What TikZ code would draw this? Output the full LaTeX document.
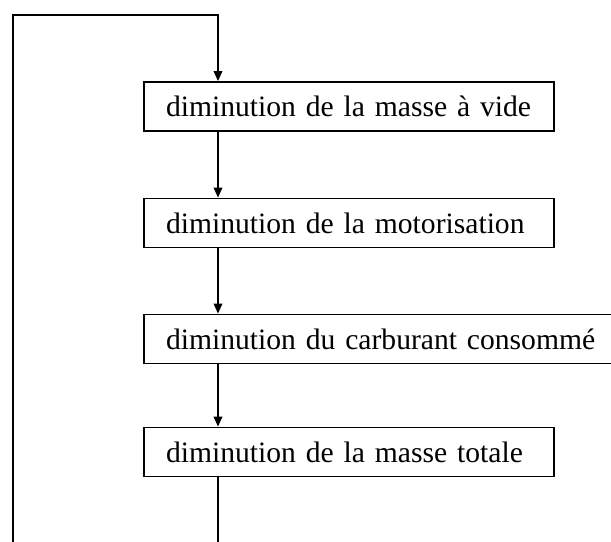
\documentclass[tikz,border=0pt]{standalone}
\usepackage{fontspec}
\setmainfont{Liberation Serif}
\usepackage{tikz}
\usetikzlibrary{calc, arrows.meta}

\begin{document}
\begin{tikzpicture}[x=0.014cm, y=0.014cm,
		box/.style = {draw, line width=0.7pt, anchor=west, align=left,
			minimum height=0.686cm, inner ysep=0pt, inner xsep=0.31cm,
			text width=5.12cm, font=\fontsize{11.8}{14}\selectfont}]
		\def\X{218};
		\def\L{143};
		
		\useasboundingbox (0,0) rectangle (611,541);
		
		\node[box] (vide) at (\L,434.5) {diminution de la masse à vide};
		\node[box] (moteur) at (\L,318) {diminution de la motorisation};
		\node[box, text width=6.15cm] (carburant) at (\L,202) {diminution du carburant consommé};
		\node[box] (totale) at (\L,89) {diminution de la masse totale};
		
		\coordinate (col) at (\X,0);
		\coordinate (bas) at (13,-4);
		\coordinate (haut) at (13,526);
		
		\begin{scope}[-{Triangle[length=4pt, width=3.4pt]}, line width=0.7pt]
			\draw (vide.south -| col) -- (moteur.north -| col);
			\draw (moteur.south -| col) -- (carburant.north -| col);
			\draw (carburant.south -| col) -- (totale.north -| col);
			\draw (totale.south -| col) |- (bas) -- (haut) -| (vide.north -| col);
		\end{scope}
	\end{tikzpicture}
\end{document}
